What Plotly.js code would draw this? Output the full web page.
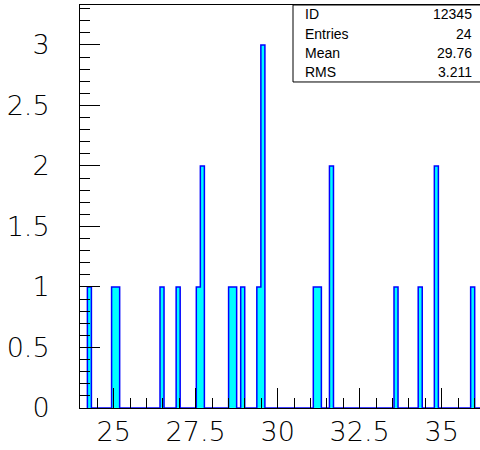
<!DOCTYPE html>
<html>
<head>
<meta charset="utf-8">
<script src="https://cdn.plot.ly/plotly-3.0.1.min.js"></script>
<style>
  html, body { margin: 0; padding: 0; background: #fff; }
  #chart { width: 480px; height: 450px; }
</style>
</head>
<body>
<div id="chart"></div>
<script>
// Histogram contents: centres of the filled bins and their entries
const binCenters = [24.26, 25.00, 25.12, 26.48, 26.97, 27.58, 27.71, 28.57, 28.69, 28.94,
                    29.43, 29.55, 31.15, 31.27, 31.64, 33.61, 34.35, 34.84, 35.95];
const counts     = [1, 1, 1, 1, 1, 1, 2, 1, 1, 1,
                    1, 3, 1, 1, 2, 1, 1, 2, 1];

// Binning of the histogram
const binOrigin = 24.2;
const binWidth = 0.123;
const nBins = 100;

// Statistics box
const statLabels = ["ID", "Entries", "Mean", "RMS"];
const statValues = ["12345", "24", "29.76", "3.211"];

// Fill all bins, then trace the histogram contour as a staircase
const full = new Array(nBins).fill(0);
binCenters.forEach((c, i) => {
  const k = Math.round((c - binOrigin) / binWidth - 0.5);
  full[k] += counts[i];
});
const sx = [binOrigin], sy = [0];
for (let k = 0; k < nBins; k++) {
  sx.push(binOrigin + k * binWidth);
  sy.push(full[k]);
}
sx.push(binOrigin + nBins * binWidth);
sy.push(0);

const axisFont = { family: "DejaVu Sans", weight: 200, color: "#000", size: 27 };
const statFont = { family: "Liberation Sans", color: "#000", size: 14 };

const hist = {
  type: "scatter",
  mode: "lines",
  x: sx,
  y: sy,
  line: { shape: "hv", color: "#0000ff", width: 1.5 },
  fill: "tozeroy",
  fillcolor: "#00ffff",
  hoverinfo: "skip"
};

const rowY = [0.978, 0.929, 0.881, 0.834];
const annotations = [];
statLabels.forEach((t, i) => {
  annotations.push({ xref: "paper", yref: "paper", x: 0.5575, y: rowY[i], text: t,
    showarrow: false, xanchor: "left", yanchor: "middle", font: statFont });
  annotations.push({ xref: "paper", yref: "paper", x: 0.985, y: rowY[i], text: statValues[i],
    showarrow: false, xanchor: "right", yanchor: "middle", font: statFont });
});

const layout = {
  width: 480,
  height: 450,
  margin: { l: 80, r: 0, t: 5, b: 42, pad: 0 },
  paper_bgcolor: "#fff",
  plot_bgcolor: "#fff",
  showlegend: false,
  xaxis: {
    range: [23.975, 36.17],
    tick0: 0, dtick: 2.5,
    ticks: "inside", ticklen: 20, tickwidth: 1, tickcolor: "#000",
    minor: { dtick: 0.5, ticks: "inside", ticklen: 10, tickwidth: 1, tickcolor: "#000" },
    showgrid: false, zeroline: false,
    showline: true, linecolor: "#000", linewidth: 1, mirror: true,
    ticklabelstandoff: 0,
    tickfont: axisFont
  },
  yaxis: {
    range: [0, 3.33],
    tick0: 0, dtick: 0.5,
    ticks: "inside", ticklen: 20, tickwidth: 1, tickcolor: "#000",
    minor: { dtick: 0.1, ticks: "inside", ticklen: 10, tickwidth: 1, tickcolor: "#000" },
    showgrid: false, zeroline: false,
    showline: true, linecolor: "#000", linewidth: 1,
    ticklabelstandoff: 24,
    tickfont: axisFont
  },
  shapes: [{
    type: "rect", xref: "paper", yref: "paper",
    x0: 0.5325, x1: 1.05, y0: 0.809, y1: 1,
    fillcolor: "#fff", line: { color: "#000", width: 1 }, layer: "above"
  }],
  annotations: annotations
};

Plotly.newPlot("chart", [hist], layout, { staticPlot: true, displayModeBar: false });
</script>
</body>
</html>
